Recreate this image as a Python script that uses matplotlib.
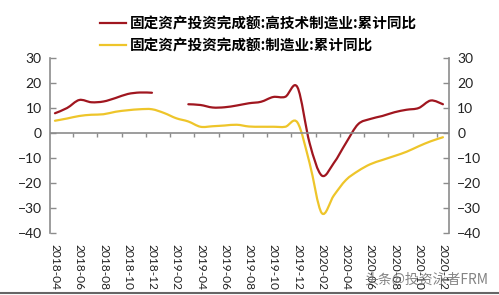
import matplotlib
matplotlib.use('Agg')
import matplotlib.pyplot as plt
from matplotlib.path import Path
from matplotlib.patches import PathPatch
from matplotlib.lines import Line2D
import numpy as np

plt.rcParams['font.family'] = ['Lato', 'DejaVu Sans']

# monthly data, 2018-04 .. 2020-12 (cumulative YoY, %)
months = ['2018-04', '2018-05', '2018-06', '2018-07', '2018-08', '2018-09',
          '2018-10', '2018-11', '2018-12', '2019-01', '2019-02', '2019-03',
          '2019-04', '2019-05', '2019-06', '2019-07', '2019-08', '2019-09',
          '2019-10', '2019-11', '2019-12', '2020-01', '2020-02', '2020-03',
          '2020-04', '2020-05', '2020-06', '2020-07', '2020-08', '2020-09',
          '2020-10', '2020-11', '2020-12']
high_tech = [7.9, 10.0, 13.2, 12.3, 12.6, 14.0, 15.6, 16.2, 16.1, np.nan, np.nan,
             11.5, 11.2, 10.2, 10.3, 11.0, 11.9, 12.5, 14.4, 14.5, 18.3, -4.0,
             -17.0, -12.0, -4.0, 3.5, 5.6, 6.8, 8.3, 9.3, 10.0, 13.0, 11.5]
manufacturing = [4.9, 5.8, 6.8, 7.3, 7.5, 8.5, 9.1, 9.5, 9.5, 8.0, 5.9, 4.6,
                 2.5, 2.7, 3.0, 3.3, 2.6, 2.5, 2.5, 2.5, 4.2, -12.0, -32.0,
                 -25.0, -18.8, -15.2, -12.5, -10.8, -9.2, -7.5, -5.3, -3.3, -1.7]
label_high = '固定资产投资完成额:高技术制造业:累计同比'
label_manu = '固定资产投资完成额:制造业:累计同比'

RED = '#A0161F'
YELLOW = '#EEC52A'
GREY = '#8C8C8C'
CJK = ['Noto Sans CJK SC', 'DejaVu Sans']


def smooth_line(ax, xs, ys, color, lw):
    """Draw a smoothed (Catmull-Rom style) curve through the points, breaking at NaNs."""
    xs = np.asarray(xs, float)
    ys = np.asarray(ys, float)
    ok = ~np.isnan(ys)
    runs, cur = [], []
    for i in range(len(xs)):
        if ok[i]:
            cur.append(i)
        elif cur:
            runs.append(cur)
            cur = []
    if cur:
        runs.append(cur)
    for run in runs:
        px, py = xs[run], ys[run]
        verts = [(px[0], py[0])]
        codes = [Path.MOVETO]
        n = len(px)
        for i in range(n - 1):
            i0, i2, i3 = max(i - 1, 0), i + 1, min(i + 2, n - 1)
            c1 = (px[i] + (px[i2] - px[i0]) / 6, py[i] + (py[i2] - py[i0]) / 6)
            c2 = (px[i2] - (px[i3] - px[i]) / 6, py[i2] - (py[i3] - py[i]) / 6)
            verts += [c1, c2, (px[i2], py[i2])]
            codes += [Path.CURVE4] * 3
        ax.add_patch(PathPatch(Path(verts, codes), fill=False, edgecolor=color,
                               lw=lw, joinstyle='round', capstyle='round'))


fig = plt.figure(figsize=(4.99, 2.95), dpi=100)
ax = fig.add_axes([50 / 499, 1 - 233 / 295, 399 / 499, 175 / 295])

x = np.arange(len(months))
smooth_line(ax, x, high_tech, RED, 1.6)
smooth_line(ax, x, manufacturing, YELLOW, 1.6)

ax.set_xlim(-0.41, 32.5)
ax.set_ylim(-40, 30)
ax.set_yticks(np.arange(-40, 31, 10))
ax.tick_params(axis='y', direction='in', length=4, width=1, color=GREY,
               labelsize=10, labelcolor='#222222', left=True, right=True,
               labelleft=True, labelright=True, pad=6)

# category labels every two months, ticks sit between them
ax.set_xticks(x[::2])
ax.set_xticklabels(months[::2], rotation=270, fontsize=8.6, color='#222222')
ax.tick_params(axis='x', length=0, pad=8)

for side in ['top', 'bottom']:
    ax.spines[side].set_visible(False)
for side in ['left', 'right']:
    ax.spines[side].set_color(GREY)
    ax.spines[side].set_linewidth(1.2)

ax.axhline(0, color=GREY, lw=1.2, zorder=1)
ax.vlines(x[1:-1:2] + 0.5, -1.6, 0, color=GREY, lw=1, zorder=1)

handles = [Line2D([], [], color=RED, lw=1.6), Line2D([], [], color=YELLOW, lw=1.6)]
fig.legend(handles, [label_high, label_manu], loc='upper left',
           bbox_to_anchor=(100 / 499, 1 - 15 / 295), frameon=False,
           borderpad=0, borderaxespad=0, handlelength=1.8, handletextpad=0.25,
           labelspacing=0.45,
           prop={'family': CJK, 'size': 10.5, 'weight': 'bold'})

fig.text(488 / 499, 1 - 280 / 295, '头条@投资泳者FRM', ha='right', va='center',
         fontsize=10, color='#6E6E6E', alpha=0.85, family=CJK)

fig.add_artist(plt.Line2D([0, 1], [0.006, 0.006], transform=fig.transFigure,
                          color='#666666', lw=1.5))

fig.savefig('out.png', dpi=100, facecolor='white')
